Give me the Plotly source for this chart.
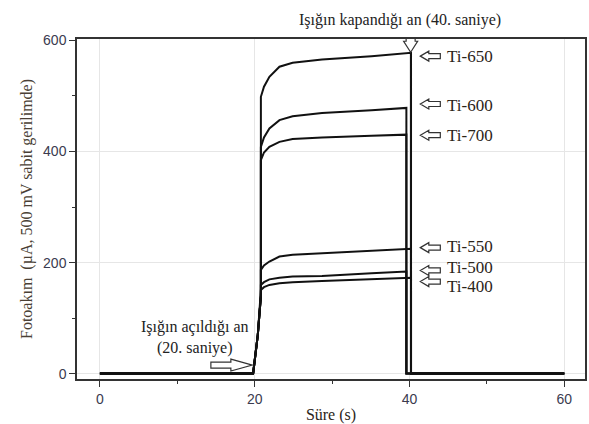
import plotly.graph_objects as go

# Photocurrent transients of Ti samples (light on at 20 s, off at 40 s)
zaman = [0.0, 19.8, 20.4, 20.8, 20.8, 21.2, 21.9, 23.2, 24.9, 28.7, 35.1, 39.6]
bitis = 60.0

ti_650 = [1, 1, 70, 140, 498, 516, 534, 552, 559, 565, 571, 577]
ti_600 = [1, 1, 70, 140, 408, 425, 441, 456, 463, 469, 474, 478]
ti_700 = [1, 1, 70, 140, 384, 398, 408, 417, 422, 425, 428, 430]
ti_550 = [1, 1, 70, 140, 187, 195, 202, 211, 214, 217, 221, 225]
ti_500 = [1, 1, 70, 140, 160, 165, 170, 173, 175, 176, 181, 184]
ti_400 = [1, 1, 70, 140, 151, 156, 160, 163, 165, 167, 170, 173]

numuneler = ["Ti-650", "Ti-600", "Ti-700", "Ti-550", "Ti-500", "Ti-400"]
seriler = [ti_650, ti_600, ti_700, ti_550, ti_500, ti_400]
kapanma = [40.2, 39.6, 39.6, 40.2, 39.6, 40.2]      # shutter close time per run
etiket_y = [570, 483, 428, 229, 191, 157]            # label heights (µA)
ok_y = [571, 485, 429, 227, 186, 166]                # label arrow heights (µA)

x_tick = [0, 20, 40, 60]
y_tick = [0, 200, 400, 600]

SERIF = "Liberation Serif, Times New Roman, serif"
SANS = "Liberation Sans, Arial, sans-serif"

fig = go.Figure()
for ad, y, tk in zip(numuneler, seriler, kapanma):
    xs = zaman[:-1] + [tk, tk, bitis]
    ys = y[:-1] + [y[-1], 1, 1]
    fig.add_trace(go.Scatter(x=xs, y=ys, mode="lines", name=ad,
                             line=dict(color="#111111", width=2),
                             showlegend=False))


def ok_yolu(noktalar):
    return "M " + " L ".join(f"{px},{py}" for px, py in noktalar) + " Z"


# hollow block arrows, drawn in pixel offsets from the tip
asagi = [(0, 0), (-7, 11), (-4.5, 11), (-4.5, 23.5), (4.5, 23.5), (4.5, 11), (7, 11)]
saga = [(0, 0), (-21.5, 6), (-21.5, 3), (-41.5, 3), (-41.5, -3), (-21.5, -3), (-21.5, -6)]
sola = [(0, 0), (8.5, 5), (8.5, 2.5), (20, 2.5), (20, -2.5), (8.5, -2.5), (8.5, -5)]


def ok_ekle(yol, xa, ya):
    fig.add_shape(type="path", path=ok_yolu(yol), xref="x", yref="y",
                  xsizemode="pixel", ysizemode="pixel", xanchor=xa, yanchor=ya,
                  line=dict(color="#333333", width=1.2), fillcolor="white",
                  layer="above")


ok_ekle(asagi, 40.15, 578)
ok_ekle(saga, 19.7, 16)
for ad, ey, oy in zip(numuneler, etiket_y, ok_y):
    ok_ekle(sola, 41.4, oy)
    fig.add_annotation(x=44.6, y=ey, xref="x", yref="y", text=ad,
                       showarrow=False, xanchor="left", yanchor="middle",
                       font=dict(family=SERIF, size=17, color="#2b2418"))

fig.add_annotation(x=38.8, y=1.056, xref="x", yref="paper",
                   text="Işığın kapandığı an (40. saniye)", showarrow=False,
                   xanchor="center", yanchor="middle",
                   font=dict(family=SERIF, size=16, color="#222222"))
fig.add_annotation(x=12.35, y=65, xref="x", yref="y",
                   text="Işığın açıldığı an<br>(20. saniye)", showarrow=False,
                   xanchor="center", yanchor="middle",
                   font=dict(family=SERIF, size=16, color="#222222"))

axis_common = dict(showline=True, linecolor="#333333", linewidth=1.5, mirror=True,
                   showgrid=True, gridcolor="#e6e6e6", gridwidth=1, zeroline=False,
                   ticks="outside", ticklen=6, tickcolor="#333333", tickwidth=1.2,
                   tickfont=dict(family=SANS, size=14, color="#3b3b4f"))

fig.update_xaxes(range=[-2.96, 62.68], tickvals=x_tick,
                 minor=dict(tickvals=[10, 30, 50], ticks="outside", ticklen=3,
                            tickcolor="#333333", showgrid=False),
                 title=dict(text="Süre (s)", standoff=4,
                            font=dict(family=SERIF, size=16, color="#2b2418")),
                 **axis_common)
fig.update_yaxes(range=[-9, 601.8], tickvals=y_tick,
                 minor=dict(tickvals=[100, 300, 500], ticks="outside", ticklen=3,
                            tickcolor="#333333", showgrid=False),
                 title=dict(text="Fotoakım  (µA, 500 mV sabit gerilimde)", standoff=6,
                            font=dict(family=SERIF, size=16, color="#4a3f35")),
                 **axis_common)

fig.update_layout(width=589, height=424,
                  margin=dict(l=77, r=2, t=39, b=45),
                  paper_bgcolor="white", plot_bgcolor="white")

fig.write_html("out.html")
